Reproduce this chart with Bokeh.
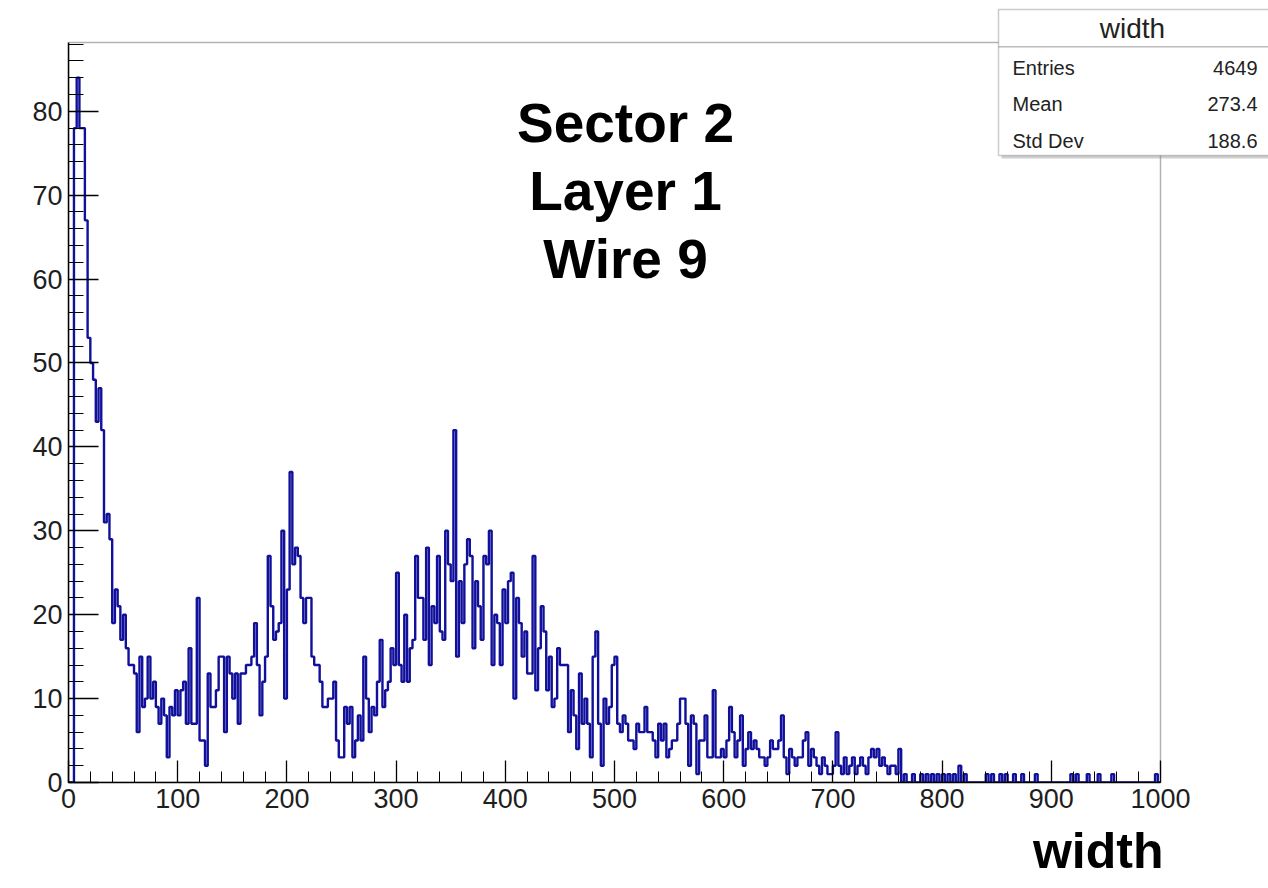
import numpy as np
from bokeh.plotting import figure
from bokeh.models import Range1d, SingleIntervalTicker, Label, BoxAnnotation, Title
from bokeh.embed import file_html
from bokeh.resources import INLINE

# ---------------- data (bin width 2.5, range 0..1000) ----------------
BIN_WIDTH = 2.5
X_MIN, X_MAX = 0, 1000
Y_MAX = 88.2

counts_000_100 = [0, 0, 78, 84, 78, 78, 67, 53, 50, 48,
                  43, 47, 42, 31, 32, 29, 19, 23, 21, 17,
                  20, 16, 14, 14, 13, 6, 15, 9, 10, 15,
                  10, 12, 9, 7, 10, 8, 3, 9, 8, 11]
counts_100_200 = [8, 11, 12, 7, 16, 7, 7, 22, 5, 5,
                  2, 13, 9, 9, 11, 15, 15, 6, 15, 13,
                  10, 13, 7, 13, 13, 14, 14, 15, 19, 14,
                  8, 12, 15, 27, 21, 17, 18, 19, 30, 10]
counts_200_300 = [23, 37, 26, 28, 27, 22, 19, 22, 22, 15,
                  14, 14, 12, 9, 9, 10, 10, 12, 5, 3,
                  3, 9, 7, 9, 3, 5, 8, 5, 15, 10,
                  6, 9, 8, 12, 17, 9, 11, 12, 16, 14]
counts_300_400 = [25, 14, 12, 20, 12, 16, 17, 27, 22, 22,
                  17, 28, 14, 21, 19, 27, 18, 17, 30, 26,
                  24, 42, 15, 24, 19, 26, 29, 27, 16, 24,
                  21, 17, 27, 26, 30, 14, 20, 19, 14, 23]
counts_400_500 = [19, 24, 25, 10, 22, 19, 15, 18, 13, 13,
                  27, 11, 16, 21, 18, 11, 15, 9, 10, 16,
                  14, 14, 14, 6, 11, 8, 4, 13, 7, 10,
                  7, 3, 15, 18, 7, 2, 10, 7, 9, 14]
counts_500_600 = [15, 7, 6, 8, 7, 5, 5, 4, 7, 6,
                  6, 9, 6, 6, 5, 3, 7, 5, 7, 3,
                  4, 5, 5, 7, 10, 10, 7, 2, 8, 7,
                  1, 5, 5, 8, 3, 3, 11, 3, 3, 4]
counts_600_700 = [3, 5, 9, 6, 3, 5, 8, 2, 4, 6,
                  4, 5, 4, 3, 3, 2, 3, 5, 4, 4,
                  5, 8, 3, 1, 4, 3, 2, 3, 3, 5,
                  6, 2, 4, 3, 2, 1, 3, 2, 1, 1]
counts_700_800 = [2, 6, 2, 1, 3, 1, 2, 3, 1, 2,
                  3, 2, 1, 3, 4, 3, 4, 2, 3, 2,
                  1, 2, 2, 1, 4, 0, 1, 0, 0, 1,
                  0, 0, 1, 0, 1, 0, 1, 0, 1, 0]
counts_800_900 = [1, 0, 1, 0, 1, 0, 2, 0, 1, 0,
                  0, 0, 0, 0, 0, 0, 1, 0, 1, 0,
                  0, 1, 0, 1, 0, 0, 1, 0, 0, 1,
                  0, 0, 0, 0, 1, 0, 0, 0, 0, 0]
counts_900_1000 = [0, 0, 0, 0, 0, 0, 0, 1, 0, 1,
                   0, 0, 0, 1, 0, 0, 0, 1, 0, 0,
                   0, 0, 1, 0, 0, 0, 0, 0, 0, 0,
                   0, 0, 0, 0, 0, 0, 0, 0, 1, 0]

hist_name = "width"
stat_names = ["Entries", "Mean", "Std Dev"]
stat_values = ["4649", "273.4", "188.6"]
title_lines = ["Sector 2", "Layer 1", "Wire 9"]
x_axis_title = "width"

counts = np.array(counts_000_100 + counts_100_200 + counts_200_300 + counts_300_400 +
                  counts_400_500 + counts_500_600 + counts_600_700 + counts_700_800 +
                  counts_800_900 + counts_900_1000, dtype=float)
edges = X_MIN + BIN_WIDTH * np.arange(len(counts) + 1)

# ---------------- layout ----------------
W, H = 1268, 888
# histogram frame in page pixels
HL, HT, HW, HH = 68, 42, 1092, 740
HB = HT + HH
BL, BB = HL, H - HB


def dx(px):
    return X_MIN + (px - HL) / HW * (X_MAX - X_MIN)


def dy(py):
    return (HB - py) / HH * Y_MAX


p = figure(width=W, height=H,
           x_range=Range1d(X_MIN, dx(W)), y_range=Range1d(0, dy(0)),
           output_backend="svg", toolbar_location=None,
           min_border_left=BL, min_border_right=0, min_border_top=0, min_border_bottom=BB)
p.outline_line_color = None
p.background_fill_color = "white"
p.border_fill_color = "white"
p.xgrid.visible = False
p.ygrid.visible = False

LINE = "#10109a"
xs = np.concatenate([edges[:-1], [edges[-1]]])
ys = np.concatenate([counts, [counts[-1]]])
p.step(xs, ys, mode="after", line_color=LINE, line_width=2.4)

# axes
p.xaxis.ticker = SingleIntervalTicker(interval=100, num_minor_ticks=5)
p.yaxis.ticker = SingleIntervalTicker(interval=10, num_minor_ticks=5)
p.xaxis.bounds = (X_MIN, X_MAX)
p.yaxis.bounds = (0, Y_MAX)
for ax, maj, mnr in ((p.xaxis, 22, 11), (p.yaxis, 30, 15)):
    ax.major_tick_in = maj
    ax.major_tick_out = 0
    ax.minor_tick_in = mnr
    ax.minor_tick_out = 0
    ax.major_tick_line_color = "black"
    ax.minor_tick_line_color = "black"
    ax.axis_line_color = "black"
    ax.axis_line_width = 1.5
    ax.major_tick_line_width = 1.3
    ax.major_label_text_font = "Liberation Sans"
    ax.major_label_text_font_size = "27px"
    ax.major_label_text_color = "#1e1e1e"
    ax.major_label_standoff = 6

# x axis title, right aligned under x = 1000
p.add_layout(Title(text=x_axis_title, align="right", offset=(W - 1163), standoff=20,
                   text_font="Liberation Sans", text_font_size="50px", text_font_style="bold",
                   text_color="black"), "below")

# frame outline of the histogram area
p.add_layout(BoxAnnotation(left=X_MIN, right=X_MAX, bottom=0, top=Y_MAX,
                           fill_color=None, line_color="black", line_width=1.5))

# stats box
box_l, box_r, box_t, box_b = 998, 1290, 9, 155
p.add_layout(BoxAnnotation(left=dx(box_l + 3), right=dx(box_r + 3), top=dy(box_t + 3), bottom=dy(box_b + 3),
                           fill_color="#8a8a8a", line_color=None))
p.add_layout(BoxAnnotation(left=dx(box_l), right=dx(box_r), top=dy(box_t), bottom=dy(box_b),
                           fill_color="white", fill_alpha=1.0, line_color="#555555", line_width=1.5))
p.add_layout(BoxAnnotation(left=dx(box_l), right=dx(box_r), top=dy(45.5), bottom=dy(47),
                           fill_color="#555555", line_color=None))
p.add_layout(Label(x=dx(1132), y=dy(28), text=hist_name, text_align="center", text_baseline="middle",
                   text_font="Liberation Sans", text_font_size="28px", text_color="#222222"))
for name, val, py in zip(stat_names, stat_values, [67, 103, 140]):
    p.add_layout(Label(x=dx(1012), y=dy(py), text=name, text_align="left", text_baseline="middle",
                       text_font="Liberation Sans", text_font_size="20px", text_color="#222222"))
    p.add_layout(Label(x=dx(1257), y=dy(py), text=val, text_align="right", text_baseline="middle",
                       text_font="Liberation Sans", text_font_size="20px", text_color="#222222"))

# big title text
for line, py in zip(title_lines, [122, 190, 258]):
    p.add_layout(Label(x=dx(625), y=dy(py), text=line, text_align="center", text_baseline="middle",
                       text_font="Liberation Sans", text_font_size="55px", text_font_style="bold",
                       text_color="black"))

open("out.html", "w").write(file_html(p, INLINE))
